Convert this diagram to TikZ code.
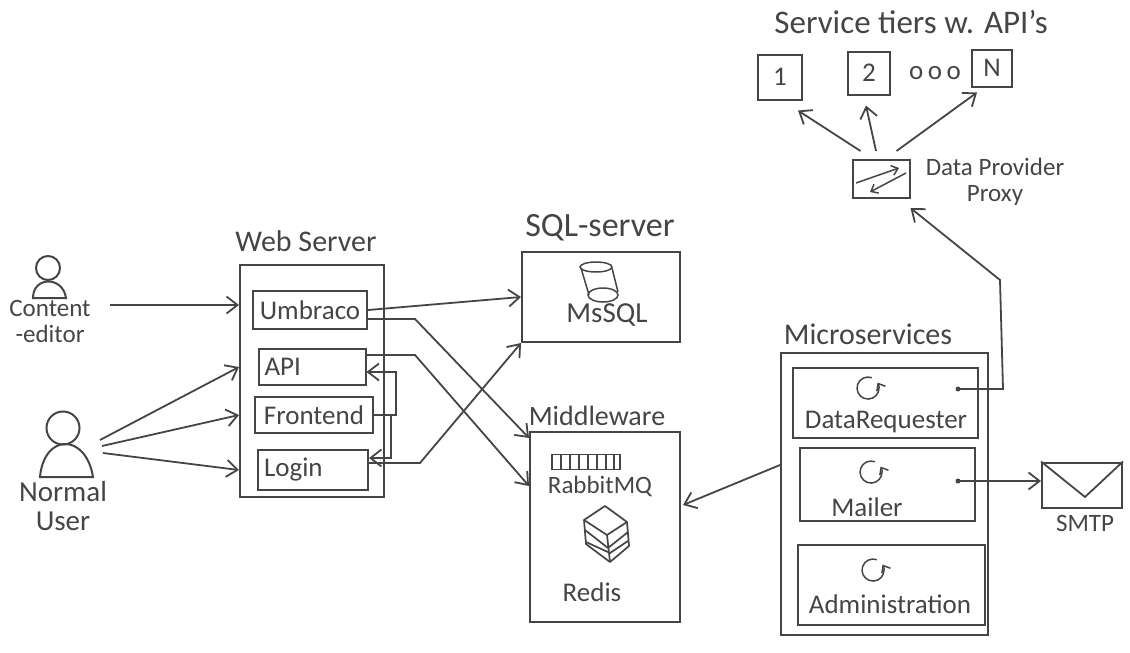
\documentclass[tikz,border=0pt]{standalone}
\usepackage{fontspec}
\setmainfont{Carlito}
\usetikzlibrary{arrows.meta}
\definecolor{pencil}{HTML}{454545}
\tikzset{
  ink/.style={draw=pencil, line width=2pt},
  outerbox/.style={ink, inner sep=0pt},
  innerbox/.style={ink, inner sep=0pt},
  flow/.style={draw=pencil, line width=1.8pt, ->, >={Straight Barb[length=11pt,width=17pt]}},
  tinyflow/.style={draw=pencil, line width=1.5pt, ->, >={Straight Barb[length=6pt,width=10pt]}},
  plainline/.style={draw=pencil, line width=1.8pt},
  title/.style={text=pencil, font=\fontsize{30}{32}\selectfont, inner sep=0pt},
  caption/.style={text=pencil, font=\fontsize{27}{28}\selectfont, inner sep=0pt, align=center},
  smalltext/.style={text=pencil, font=\fontsize{25}{26}\selectfont, inner sep=0pt, align=center},
  refresh/.pic={
    \draw[tinyflow] (3.8,-10.3) arc (-70:-390:11);
  }
}
\begin{document}
\begin{tikzpicture}[x=1pt, y=-1pt]
  \useasboundingbox (0,0) rectangle (1130,653);

  % people
  \node[ink, circle, minimum size=24pt, inner sep=0pt](editorhead) at (48,268){};
  \draw[ink] (33,298) .. controls (33,276) and (63,276) .. (66,298) -- cycle;
  \node[smalltext](editor) at (50,321){Content\\-editor};
  \node[ink, circle, minimum size=33pt, inner sep=0pt](userhead) at (63,428){};
  \draw[ink] (40,477) .. controls (44,433) and (86,433) .. (93,477) -- cycle;
  \node[text=pencil, font=\fontsize{29}{29}\selectfont, inner sep=0pt, align=center](user) at (63,506){Normal\\User};
  \coordinate (editorout) at (110,305);
  \coordinate (userouta) at (100,440);
  \coordinate (useroutb) at (102,446);
  \coordinate (useroutc) at (103,453);

  % web server
  \node[title](webtitle) at (306,241){Web Server};
  \node[outerbox, minimum width=144pt, minimum height=232pt](web) at (312,381){};
  \node[innerbox, minimum width=114pt, minimum height=38pt, caption](umbraco) at (310,310){Umbraco};
  \node[innerbox, minimum width=107pt, minimum height=36pt, caption, text width=95pt, align=left](api) at (312,367){API};
  \node[innerbox, minimum width=118pt, minimum height=36pt, caption](frontend) at (314,415){Frontend};
  \node[innerbox, minimum width=110pt, minimum height=40pt, caption, text width=98pt, align=left](login) at (313,470){Login};

  % sql server
  \node[title, font=\fontsize{34}{34}\selectfont](sqltitle) at (600,228){SQL-server};
  \node[outerbox, minimum width=158pt, minimum height=90pt](sql) at (601,297){};
  \node[caption, font=\fontsize{29}{29}\selectfont](mssql) at (607,315){MsSQL};
  \draw[ink, line width=1.5pt] (596,267) ellipse [x radius=16pt, y radius=5pt];
  \draw[ink, line width=1.5pt] (581,268) -- (589,295) (612,268) -- (618,292);
  \draw[ink, line width=1.5pt] (603,295) ellipse [x radius=15pt, y radius=7pt];

  % middleware
  \node[title, font=\fontsize{28}{30}\selectfont](midtitle) at (597,416){Middleware};
  \node[outerbox, minimum width=150pt, minimum height=190pt](mid) at (605,527){};
  \node[innerbox, minimum width=68pt, minimum height=15pt, line width=1.5pt](queue) at (586,462){};
  \foreach \tick in {561,570,579,588,597,606,614}
    \draw[plainline, line width=1.3pt] (\tick,455) -- (\tick,470);
  \node[smalltext](rabbit) at (600,486){RabbitMQ};
  \draw[ink, line width=1.7pt, line join=round] (605,506) -- (627,522) -- (607,535) -- (584,520) -- cycle;
  \draw[ink, line width=1.7pt, line join=round] (584,520) -- (586,544) -- (610,562) -- (629,546) -- (627,522);
  \draw[ink, line width=1.7pt] (585,530) -- (608,548) -- (628,532) (586,542) -- (610,553) -- (628,541) (607,535) -- (610,562);
  \node[caption](redis) at (592,592){Redis};

  % microservices
  \node[title](mictitle) at (868,334){Microservices};
  \node[outerbox, minimum width=207pt, minimum height=282pt](micro) at (884,494){};
  \node[innerbox, minimum width=185pt, minimum height=70pt](requester) at (885,403){};
  \pic at (868,388) {refresh};
  \node[caption](requestertext) at (886,422){DataRequester};
  \node[innerbox, minimum width=175pt, minimum height=73pt](mailer) at (887,484){};
  \pic at (871,472) {refresh};
  \node[caption](mailertext) at (867,507){Mailer};
  \node[innerbox, minimum width=187pt, minimum height=80pt](admin) at (891,585){};
  \pic at (873,570) {refresh};
  \node[caption](admintext) at (890,604){Administration};

  % smtp
  \node[innerbox, minimum width=80pt, minimum height=45pt](smtp) at (1082,485){};
  \coordinate (flap) at (1085,497);
  \draw[plainline] (smtp.north west) -- (flap) -- (smtp.north east);
  \node[smalltext](smtptext) at (1085,523){SMTP};

  % proxy and service tiers
  \node[innerbox, minimum width=57pt, minimum height=38pt](proxy) at (881,179){};
  \draw[tinyflow] (856,183) -- (899,168);
  \draw[tinyflow] (906,173) -- (870,192);
  \node[smalltext](proxytext) at (995,182){Data Provider\\Proxy};
  \node[title, font=\fontsize{33}{34}\selectfont](tiers) at (911,22){Service tiers w. API's};
  \node[innerbox, minimum width=44pt, minimum height=45pt, caption](tierone) at (780,77){1};
  \node[innerbox, minimum width=42pt, minimum height=43pt, caption](tiertwo) at (869,73){2};
  \node[caption](dots) at (935,73){o\,o\,o};
  \node[innerbox, minimum width=40pt, minimum height=37pt, caption](tiern) at (992,68){N};

  % connectors
  \draw[flow] (editorout) -- (web.west |- editorout);
  \draw[flow] (userouta) -- (web.west |- api);
  \draw[flow] (useroutb) -- (web.west |- frontend);
  \draw[flow] (useroutc) -- (web.west |- login);
  \draw[flow] (umbraco.east) -- (sql.west);

  \coordinate (umbracobend) at (415,319);
  \coordinate (apibend) at (415,355);
  \coordinate (loginbend) at (420,463);
  \draw[flow] (umbraco.east |- umbracobend) -- (umbracobend) -- ([yshift=-7pt]mid.north west);
  \draw[flow] (api.east |- apibend) -- (apibend) -- (mid.west |- rabbit);
  \draw[flow] (login.east |- loginbend) -- (loginbend) -- (sql.south west);

  \coordinate (loopapi) at (396,372);
  \coordinate (looplogin) at (391,458);
  \draw[flow] (frontend.east) -| (loopapi) -- (api.east |- loopapi);
  \draw[flow] (frontend.east) -| (looplogin) -- (login.east |- looplogin);

  \coordinate (microout) at (780,465);
  \coordinate (midin) at (683,505);
  \draw[flow] (microout) -- (midin);

  \coordinate (requesterdot) at (958,389);
  \coordinate (requesterbend) at (1003,389);
  \coordinate (requesterup) at (1000,280);
  \fill[pencil] (requesterdot) circle (2.5pt);
  \draw[flow] (requesterdot) -- (requesterbend) -- (requesterup) -- ([yshift=-9pt]proxy.south east);
  \coordinate (mailerdot) at (958,481);
  \fill[pencil] (mailerdot) circle (2.5pt);
  \draw[flow] (mailerdot) -- (smtp.west |- mailerdot);

  \draw[flow] ([shift={(9pt,8pt)}]proxy.north west) -- ([shift={(-5pt,-10pt)}]tierone.south east);
  \draw[flow] ([shift={(-5pt,8pt)}]proxy.north) -- ([shift={(-3pt,-10pt)}]tiertwo.south);
  \draw[flow] ([shift={(-14pt,8pt)}]proxy.north east) -- ([shift={(6pt,-5pt)}]tiern.south west);
\end{tikzpicture}
\end{document}
